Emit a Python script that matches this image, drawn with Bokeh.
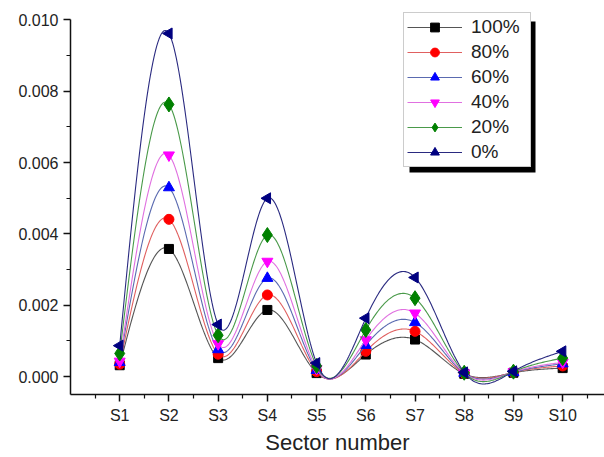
import numpy as np
from bokeh.plotting import figure
from bokeh.models import (Range1d, FixedTicker, NumeralTickFormatter, Legend,
                          LegendItem, BoxAnnotation)
from bokeh.embed import file_html
from bokeh.resources import INLINE

# ---------------- data ----------------
sectors = ["S1", "S2", "S3", "S4", "S5", "S6", "S7", "S8", "S9", "S10"]
series_names = ["100%", "80%", "60%", "40%", "20%", "0%"]
s100 = [0.00032, 0.00358, 0.00052, 0.00187, 0.00010, 0.00062, 0.00104, 0.00008, 0.00011, 0.00024]
s80 = [0.00035, 0.00441, 0.00063, 0.00229, 0.00014, 0.00071, 0.00127, 0.00009, 0.00012, 0.00030]
s60 = [0.00040, 0.00530, 0.00076, 0.00276, 0.00018, 0.00088, 0.00152, 0.00010, 0.00012, 0.00036]
s40 = [0.00043, 0.00621, 0.00092, 0.00323, 0.00022, 0.00103, 0.00178, 0.00010, 0.00013, 0.00040]
s20 = [0.00065, 0.00763, 0.00116, 0.00397, 0.00030, 0.00131, 0.00220, 0.00011, 0.00014, 0.00052]
s0 = [0.00087, 0.00962, 0.00146, 0.00500, 0.00038, 0.00164, 0.00278, 0.00012, 0.00015, 0.00071]
y_ticks = [0.000, 0.002, 0.004, 0.006, 0.008, 0.010]

all_series = [s100, s80, s60, s40, s20, s0]
colors = ["#000000", "#ff0000", "#0000ff", "#ff00ff", "#008000", "#000080"]
line_colors = ["#555555", "#e06060", "#5a6ab0", "#e070e0", "#4a9a4a", "#2a2a80"]
markers = ["square", "circle", "triangle", "inverted_triangle", "diamond", "triangle"]
angles = [0, 0, 0, 0, 0, np.pi / 2]
sizes = [9, 10, 11, 11, 15, 11]


def natural_spline(x, y, n_per=40):
    x = np.asarray(x, float)
    y = np.asarray(y, float)
    n = len(x)
    h = np.diff(x)
    A = np.zeros((n, n))
    b = np.zeros(n)
    A[0, 0] = 1.0
    A[-1, -1] = 1.0
    for i in range(1, n - 1):
        A[i, i - 1] = h[i - 1]
        A[i, i] = 2 * (h[i - 1] + h[i])
        A[i, i + 1] = h[i]
        b[i] = 6 * ((y[i + 1] - y[i]) / h[i] - (y[i] - y[i - 1]) / h[i - 1])
    M = np.linalg.solve(A, b)
    xs, ys = [], []
    for i in range(n - 1):
        t = np.linspace(x[i], x[i + 1], n_per, endpoint=(i == n - 2))
        a = x[i + 1] - t
        c = t - x[i]
        s = (M[i] * a ** 3 / (6 * h[i]) + M[i + 1] * c ** 3 / (6 * h[i])
             + (y[i] / h[i] - M[i] * h[i] / 6) * a
             + (y[i + 1] / h[i] - M[i + 1] * h[i] / 6) * c)
        xs.extend(t)
        ys.extend(s)
    return np.array(xs), np.array(ys)


xpos = list(range(1, len(sectors) + 1))

p = figure(width=604, height=457, output_backend="svg", toolbar_location=None,
           x_range=Range1d(0, 10.85), y_range=Range1d(-0.0005, 0.01032),
           min_border_left=70, min_border_right=0, min_border_top=8,
           min_border_bottom=62)
p.outline_line_color = None
p.grid.grid_line_color = None
p.background_fill_color = "white"
p.border_fill_color = "white"

items = []
for name, vals, col, lcol, mk, ang, sz in zip(series_names, all_series, colors,
                                               line_colors, markers, angles, sizes):
    sx, sy = natural_spline(xpos, vals)
    r1 = p.line(sx, sy, line_color=lcol, line_width=1.1)
    r2 = p.scatter(xpos, vals, marker=mk, angle=ang, size=sz, fill_color=col,
                   line_color=col)
    items.append(LegendItem(label=name, renderers=[r1, r2]))

# axes
p.xaxis.ticker = FixedTicker(ticks=xpos, minor_ticks=[v - 0.5 for v in xpos] + [10.5])
p.xaxis.major_label_overrides = {x: s for x, s in zip(xpos, sectors)}
p.xaxis.axis_label = "Sector number"
p.yaxis.ticker = FixedTicker(ticks=y_ticks,
                             minor_ticks=[t + 0.001 for t in y_ticks[:-1]])
p.yaxis.formatter = NumeralTickFormatter(format="0.000")
p.yaxis.bounds = (-0.0005, 0.010)
for ax in (p.xaxis, p.yaxis):
    ax.axis_line_width = 1.5
    ax.axis_line_color = "#111111"
    ax.major_tick_line_color = "#111111"
    ax.minor_tick_line_color = "#111111"
    ax.major_tick_line_width = 1.5
    ax.minor_tick_line_width = 1.2
    ax.major_tick_out = 7
    ax.major_tick_in = 0
    ax.minor_tick_out = 4
    ax.minor_tick_in = 0
    ax.major_label_text_font = "Liberation Sans"
    ax.major_label_text_font_size = "16px"
    ax.major_label_text_color = "#222222"
    ax.axis_label_text_font = "Liberation Sans"
    ax.axis_label_text_font_style = "normal"
    ax.axis_label_text_font_size = "22px"
    ax.axis_label_text_color = "#222222"
p.xaxis.major_label_standoff = 5
p.xaxis.axis_label_standoff = 3
p.yaxis.major_label_standoff = 5

# legend shadow
shadow = BoxAnnotation(left=339, right=465, bottom=222, top=373,
                       left_units="screen", right_units="screen",
                       bottom_units="screen", top_units="screen",
                       fill_color="black", fill_alpha=1.0, line_color=None)
p.add_layout(shadow)

legend = Legend(items=items, location=(333, 227))
legend.label_text_font = "Liberation Sans"
legend.label_text_font_size = "19px"
legend.label_text_color = "#222222"
legend.glyph_width = 55
legend.glyph_height = 22
legend.label_height = 22
legend.label_width = 56
legend.label_standoff = 9
legend.spacing = 3
legend.padding = 3
legend.margin = 0
legend.border_line_color = "#999999"
legend.border_line_width = 1
legend.background_fill_color = "white"
legend.background_fill_alpha = 1.0
p.add_layout(legend)

open("out.html", "w").write(file_html(p, INLINE))
